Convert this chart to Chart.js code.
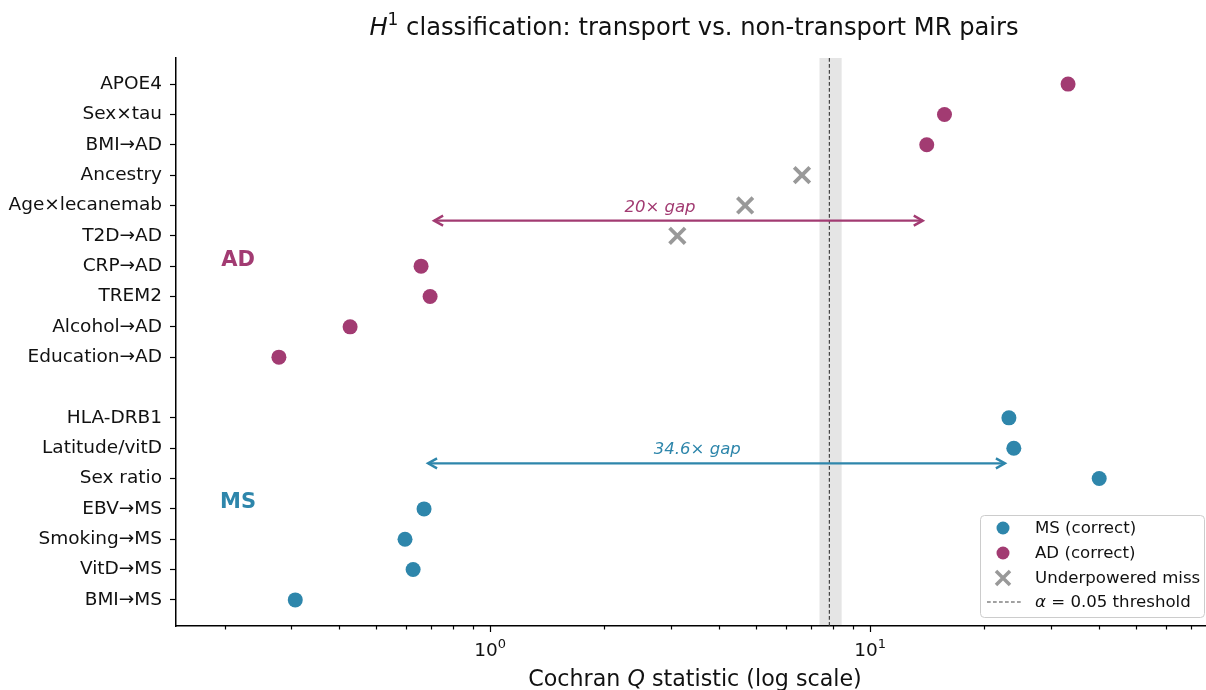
<!DOCTYPE html>
<html><head><meta charset="utf-8">
<script src="https://cdn.jsdelivr.net/npm/chart.js@4/dist/chart.umd.min.js"></script>
<style>html,body{margin:0;padding:0;background:#fff;overflow:hidden}#wrap{width:1206px;height:690px;position:relative}canvas{display:block}</style>
</head><body><div id="wrap"><canvas id="c" width="1206" height="690"></canvas></div>
<script>
// ---------------- data ----------------
const adLabels = ['APOE4','Sex×tau','BMI→AD','Ancestry','Age×lecanemab','T2D→AD','CRP→AD','TREM2','Alcohol→AD','Education→AD'];
const adQ      = [33.2, 15.7, 14.1, 6.62, 4.69, 3.11, 0.658, 0.695, 0.428, 0.278];
const adMiss   = [false,false,false,true,true,true,false,false,false,false];
const msLabels = ['HLA-DRB1','Latitude/vitD','Sex ratio','EBV→MS','Smoking→MS','VitD→MS','BMI→MS'];
const msQ      = [23.2, 23.9, 40.1, 0.67, 0.597, 0.627, 0.307];
const thresholdQ = 7.815;
const thresholdBand = [7.36, 8.42];
const gapText = {AD: '20× gap', MS: '34.6× gap'};
const legendLabels = ['MS (correct)', 'AD (correct)', 'Underpowered miss', 'α = 0.05 threshold'];
const xTickLabels = [{v:1, base:'10', sup:'0'}, {v:10, base:'10', sup:'1'}];

const MS_COL = '#2E86AB', AD_COL = '#A23B72', MISS_COL = '#999999';
const FONT = 'DejaVu Sans';
const PLOT = {left:176, right:1206, top:58, bottom:626};

// rows: MS at bottom, blank row, AD on top
const rows = [];
msLabels.forEach((l,i)=>rows.push({label:l, pos: msLabels.length-1-i}));
adLabels.forEach((l,i)=>rows.push({label:l, pos: msLabels.length+1+(adLabels.length-1-i)}));
const posOf = {}, labelAt = {};
rows.forEach(r=>{posOf[r.label]=r.pos; labelAt[r.pos]=r.label;});

const msData = msLabels.map((l,i)=>({x:msQ[i], y:posOf[l]}));
const adData = adLabels.map((l,i)=>({x:adQ[i], y:posOf[l]})).filter((d,i)=>!adMiss[i]);
const missData = adLabels.map((l,i)=>({x:adQ[i], y:posOf[l]})).filter((d,i)=>adMiss[i]);

function gapRange(vals){
  const lo = Math.max(...vals.filter(v=>v<thresholdQ));
  const hi = Math.min(...vals.filter(v=>v>thresholdQ));
  return [lo, hi];
}
const adGap = gapRange(adQ.filter((v,i)=>!adMiss[i]));
const msGap = gapRange(msQ);

function drawParts(ctx, parts, cx, y){
  let w = 0;
  parts.forEach(p=>{ctx.font=p.font; p.w=ctx.measureText(p.t).width; w+=p.w;});
  let x = cx - w/2;
  ctx.textAlign='left'; ctx.textBaseline='alphabetic';
  parts.forEach(p=>{ctx.font=p.font; ctx.fillText(p.t, x, y+(p.dy||0)); x+=p.w;});
}

function arrow(ctx, x1, x2, y, col){
  const s = 4, hl = 9, hw = 5;
  x1 += s; x2 -= s;
  ctx.save();
  ctx.strokeStyle = col; ctx.lineWidth = 2.4; ctx.lineCap='butt'; ctx.lineJoin='miter';
  ctx.beginPath(); ctx.moveTo(x1,y); ctx.lineTo(x2,y); ctx.stroke();
  ctx.beginPath(); ctx.moveTo(x1+hl,y-hw); ctx.lineTo(x1,y); ctx.lineTo(x1+hl,y+hw); ctx.stroke();
  ctx.beginPath(); ctx.moveTo(x2-hl,y-hw); ctx.lineTo(x2,y); ctx.lineTo(x2-hl,y+hw); ctx.stroke();
  ctx.restore();
}

// force the plot area to the reference frame
const frame = {
  id:'frame',
  afterLayout(chart){
    const a = chart.chartArea;
    a.left = PLOT.left; a.right = PLOT.right; a.top = PLOT.top; a.bottom = PLOT.bottom;
    a.width = a.right - a.left; a.height = a.bottom - a.top;
    const {x, y} = chart.scales;
    x.left = PLOT.left; x.right = PLOT.right; x.width = PLOT.right - PLOT.left;
    x.top = PLOT.bottom; x.bottom = 690; x.height = 690 - PLOT.bottom;
    y.top = PLOT.top; y.bottom = PLOT.bottom; y.height = PLOT.bottom - PLOT.top;
    y.left = 0; y.right = PLOT.left; y.width = PLOT.left;
    x.configure(); y.configure();
  }
};

const decor = {
  id:'decor',
  beforeDatasetsDraw(chart){
    const {ctx, chartArea:a, scales:{x}} = chart;
    ctx.save();
    const b1 = x.getPixelForValue(thresholdBand[0]), b2 = x.getPixelForValue(thresholdBand[1]);
    ctx.fillStyle = 'rgba(0,0,0,0.1)';
    ctx.fillRect(b1, a.top, b2-b1, a.bottom-a.top);
    const tx = x.getPixelForValue(thresholdQ);
    ctx.strokeStyle = '#444'; ctx.lineWidth = 1.2; ctx.setLineDash([3.7,2.3]);
    ctx.beginPath(); ctx.moveTo(tx, a.top); ctx.lineTo(tx, a.bottom); ctx.stroke();
    ctx.restore();
  },
  afterDatasetsDraw(chart){
    const {ctx, scales:{x,y}} = chart;
    ctx.save();
    const ay = y.getPixelForValue(posOf['T2D→AD']+0.5);
    arrow(ctx, x.getPixelForValue(adGap[0]), x.getPixelForValue(adGap[1]), ay, AD_COL);
    const my = y.getPixelForValue(posOf['Sex ratio']+0.5);
    arrow(ctx, x.getPixelForValue(msGap[0]), x.getPixelForValue(msGap[1]), my, MS_COL);
    ctx.font = 'italic 16.5px '+FONT; ctx.textAlign='center'; ctx.textBaseline='alphabetic';
    ctx.fillStyle = AD_COL;
    ctx.fillText(gapText.AD, x.getPixelForValue(2.8), ay-9);
    ctx.fillStyle = MS_COL;
    ctx.fillText(gapText.MS, x.getPixelForValue(3.51), my-9);
    ctx.font = 'bold 21px '+FONT; ctx.textBaseline='middle';
    ctx.fillStyle = AD_COL;
    ctx.fillText('AD', x.getPixelForValue(0.217), y.getPixelForValue(11.2));
    ctx.fillStyle = MS_COL;
    ctx.fillText('MS', x.getPixelForValue(0.217), y.getPixelForValue(3.2));
    ctx.restore();
  },
  afterDraw(chart){
    const {ctx, chartArea:a, scales:{x}} = chart;
    ctx.save();
    ctx.strokeStyle = '#000'; ctx.lineWidth = 1.2;
    for (let e=-1; e<=1; e++){
      for (let m=1; m<=9; m++){
        const v = m*Math.pow(10,e);
        if (v < x.min || v > x.max) continue;
        const px = Math.round(x.getPixelForValue(v))+0.5;
        const len = m===1 ? 6 : 3.5;
        ctx.beginPath(); ctx.moveTo(px, a.bottom); ctx.lineTo(px, a.bottom+len); ctx.stroke();
      }
    }
    ctx.fillStyle = '#111';
    xTickLabels.forEach(t=>{
      drawParts(ctx, [{t:t.base, font:'18.5px '+FONT},{t:t.sup, font:'13px '+FONT, dy:-8}], x.getPixelForValue(t.v), 656);
    });
    drawParts(ctx, [{t:'H', font:'italic 24.2px '+FONT},{t:'1', font:'17px '+FONT, dy:-10},{t:' classification: transport vs. non-transport MR pairs', font:'24.2px '+FONT}], 694, 35);
    drawParts(ctx, [{t:'Cochran ', font:'22.2px '+FONT},{t:'Q', font:'italic 22.2px '+FONT},{t:' statistic (log scale)', font:'22.2px '+FONT}], 695, 686);
    // legend
    const lx = 980, ly = 515, lw = 224, lh = 102;
    ctx.fillStyle = 'rgba(255,255,255,0.85)'; ctx.strokeStyle = '#cccccc'; ctx.lineWidth = 1;
    ctx.beginPath(); ctx.roundRect(lx+0.5, ly+0.5, lw, lh, 4); ctx.fill(); ctx.stroke();
    const rowsY = [528, 553, 578, 602];
    const mx = 1003;
    ctx.fillStyle = MS_COL; ctx.beginPath(); ctx.arc(mx, rowsY[0], 6.5, 0, Math.PI*2); ctx.fill();
    ctx.fillStyle = AD_COL; ctx.beginPath(); ctx.arc(mx, rowsY[1], 6.5, 0, Math.PI*2); ctx.fill();
    ctx.strokeStyle = MISS_COL; ctx.lineWidth = 3.5;
    ctx.beginPath(); ctx.moveTo(mx-7,rowsY[2]-7); ctx.lineTo(mx+7,rowsY[2]+7); ctx.moveTo(mx+7,rowsY[2]-7); ctx.lineTo(mx-7,rowsY[2]+7); ctx.stroke();
    ctx.strokeStyle = '#444'; ctx.lineWidth = 1.2; ctx.setLineDash([3.7,2.3]);
    ctx.beginPath(); ctx.moveTo(987, rowsY[3]); ctx.lineTo(1021, rowsY[3]); ctx.stroke();
    ctx.setLineDash([]);
    ctx.fillStyle = '#111'; ctx.font = '16.6px '+FONT; ctx.textAlign='left'; ctx.textBaseline='middle';
    for (let i=0;i<3;i++) ctx.fillText(legendLabels[i], 1035, rowsY[i]+1);
    ctx.font = 'italic 16.6px '+FONT; ctx.fillText('α', 1035, rowsY[3]+1);
    const aw = ctx.measureText('α').width;
    ctx.font = '16.6px '+FONT; ctx.fillText(legendLabels[3].slice(1), 1035+aw, rowsY[3]+1);
    ctx.restore();
  }
};

new Chart(document.getElementById('c'), {
  type:'scatter',
  data:{datasets:[
    {label:legendLabels[0], data:msData, pointStyle:'circle', pointRadius:7.5, pointBorderWidth:0, backgroundColor:MS_COL, borderColor:MS_COL},
    {label:legendLabels[1], data:adData, pointStyle:'circle', pointRadius:7.5, pointBorderWidth:0, backgroundColor:AD_COL, borderColor:AD_COL},
    {label:legendLabels[2], data:missData, pointStyle:'crossRot', pointRadius:11, pointBorderWidth:3.8, backgroundColor:MISS_COL, borderColor:MISS_COL}
  ]},
  options:{
    responsive:false, animation:false, events:[],
    layout:{padding:{top:58, right:0, left:0, bottom:0}},
    plugins:{legend:{display:false}, title:{display:false}, tooltip:{enabled:false}},
    scales:{
      x:{type:'logarithmic', position:'bottom', min:0.149, max:76.6,
         ticks:{display:false}, grid:{display:false, drawTicks:false},
         border:{display:true, color:'#000', width:1.5},
         afterFit:s=>{s.height=64;}},
      y:{type:'linear', min:-0.86, max:17.86,
         afterBuildTicks:s=>{s.ticks = rows.map(r=>({value:r.pos})).sort((a,b)=>a.value-b.value);},
         ticks:{callback:v=>labelAt[v] ?? '', font:{family:FONT, size:18.5}, color:'#111', padding:8, autoSkip:false},
         grid:{display:true, drawOnChartArea:false, drawTicks:true, tickLength:6, tickColor:'#000', tickWidth:1.2},
         border:{display:true, color:'#000', width:1.5},
         afterFit:s=>{s.width=176;}}
    }
  },
  plugins:[frame, decor]
});
</script></body></html>
